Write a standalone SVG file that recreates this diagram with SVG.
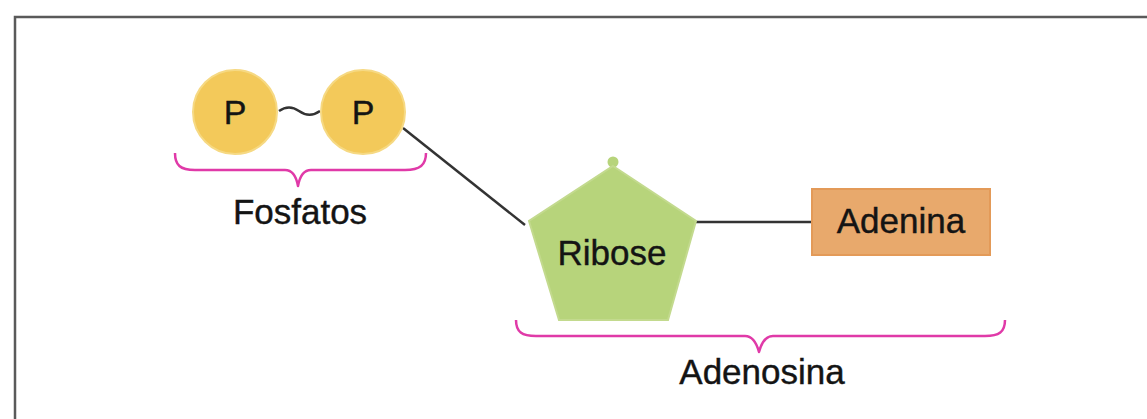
<svg xmlns="http://www.w3.org/2000/svg" width="1147" height="419" viewBox="0 0 1147 419">
  <style>
    .lbl { font-family: "Liberation Sans", Arial, sans-serif; font-size: 35px; fill: #141414; text-anchor: middle; stroke: #141414; stroke-width: 0.4; }
    .p { font-size: 34px; }
    .phos { fill: #f3c95a; stroke: #f6d983; stroke-width: 2; }
    .brace { fill: none; stroke: #e03aa8; stroke-width: 2.5; stroke-linejoin: round; }
    .link { fill: none; stroke: #333333; stroke-width: 2.5; }
  </style>

  <rect x="0" y="0" width="1147" height="419" fill="#ffffff"/>
  <!-- outer frame -->
  <path d="M15 419 V17 H1147" fill="none" stroke="#5a5a5a" stroke-width="2.5"/>

  <g id="connectors">
    <path class="link" d="M279 111 C286 106 292 106 299 111 C306 116 313 116 320 111" stroke="#444444"/>
    <line class="link" x1="403" y1="128" x2="525" y2="225"/>
    <line class="link" x1="695" y1="222" x2="812" y2="222" stroke="#555555"/>
  </g>

  <g id="fosfato1">
    <circle class="phos" cx="235" cy="112" r="42"/>
    <text class="lbl p" x="235" y="124">P</text>
  </g>
  <g id="fosfato2">
    <circle class="phos" cx="363" cy="112" r="42"/>
    <text class="lbl p" x="363" y="124">P</text>
  </g>

  <g id="ribose">
    <circle cx="613" cy="162" r="5.5" fill="#b7d47b"/>
    <polygon points="613,166 696,221 668,320 559,320 529,221" fill="#b7d47b" stroke="#c3da8e" stroke-width="2"/>
    <text class="lbl" x="612" y="265">Ribose</text>
  </g>

  <g id="adenina">
    <rect x="812" y="189" width="178" height="66" fill="#e8a96c" stroke="#e39a58" stroke-width="2"/>
    <text class="lbl" x="901" y="233">Adenina</text>
  </g>

  <g id="fosfatos">
    <path class="brace" d="M175 153 C175 165 180 170 195 170 H285 C292 170 296 175 298 186 C300 175 304 170 311 170 H405 C420 170 426 165 426 153"/>
    <text class="lbl" x="300" y="224">Fosfatos</text>
  </g>

  <g id="adenosina">
    <path class="brace" d="M516 320 C516 332 522 336 536 336 H745 C752 336 756 341 759 352 C762 341 766 336 773 336 H985 C999 336 1005 332 1005 320"/>
    <text class="lbl" x="762" y="384">Adenosina</text>
  </g>
</svg>
